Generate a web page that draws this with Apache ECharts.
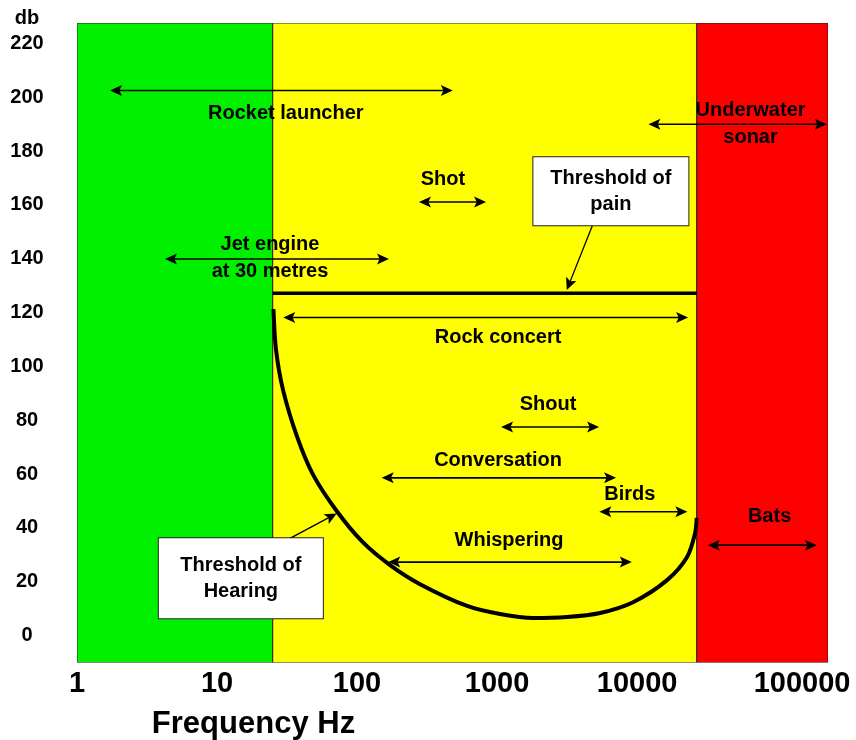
<!DOCTYPE html>
<html><head><meta charset="utf-8">
<script src="https://cdn.jsdelivr.net/npm/echarts@6/dist/echarts.min.js"></script>
<style>html,body{margin:0;padding:0;background:#fff}#c{width:856px;height:740px}</style>
</head><body><div id="c"></div>
<script>
const FONT = '"Liberation Sans", Arial, Helvetica, sans-serif';

// axis ticks
const xTickValues = [1, 10, 100, 1000, 10000, 100000];
const xTickLabels = ['1', '10', '100', '1000', '10000', '100000'];
const yTickValues = [0, 20, 40, 60, 80, 100, 120, 140, 160, 180, 200, 220];
const Y_MIN = -10, Y_MAX = 227.6;
const X_MIN = 1, X_MAX = 231000;

// frequency bands (Hz)
const bandStart = [1, 25, 26700];
const bandEnd = [25, 26700, 231000];
const bandColors = ['#00f000', '#ffff00', '#ff0000'];

// threshold of hearing (Hz, dB)
const hearingF = [25.3, 26.4, 29.6, 37.3, 48.5, 72.0, 110.4, 172, 282, 611, 1050, 1808, 3162, 5441, 9362, 16380, 22760, 25970, 26650];
const hearingDb = [121.3, 106.1, 91.3, 73.9, 59.8, 46.1, 34.6, 26.2, 19.1, 11.0, 8.0, 6.5, 6.9, 8.4, 12.4, 20.6, 29.2, 38.1, 43.7];

// threshold of pain
const painF = [25, 26700];
const painDb = [127.2, 127.2];

// sound sources: frequency range and level
const sourceNames = ['Rocket launcher', 'Underwater\nsonar', 'Shot', 'Jet engine\nat 30 metres', 'Rock concert', 'Shout', 'Conversation', 'Birds', 'Whispering', 'Bats'];
const sourceFLow = [1.72, 12050, 277, 4.25, 29.7, 1069, 150, 5380, 167, 32000];
const sourceFHigh = [483, 226500, 835, 169, 23130, 5354, 7080, 22870, 9170, 192200];
const sourceDb = [202.5, 190.0, 161.1, 139.9, 118.2, 77.5, 58.6, 46.0, 27.3, 33.6];
const labelF = [31.0, 64600, 411, 23.9, 1017, 2312, 1017, 8870, 1218, 88400];
const labelDb = [193.8, 189.9, 169.3, 140.3, 110.9, 85.7, 65.2, 52.4, 35.5, 44.2];

// annotation call-outs
const noteTexts = ['Threshold of\npain', 'Threshold of\nHearing'];
const noteF = [6500, 14.8];
const noteDb = [165.1, 21.3];
const notePointerF = [4820, 33.2];
const notePointerDb = [152.6, 36.1];
const noteTargetF = [3147, 71.6];
const noteTargetDb = [128.4, 45.4];

function tickLabel(v) {
  for (let i = 0; i < xTickValues.length; i++) {
    if (Math.abs(Math.log10(v) - Math.log10(xTickValues[i])) < 1e-6) {
      return i === xTickValues.length - 1 ? '{far|' + xTickLabels[i] + '}' : xTickLabels[i];
    }
  }
  return '';
}

// filled arrow head with its tip at "tip", pointing away from "from"
function head(tip, from, L, W) {
  let dx = tip[0] - from[0], dy = tip[1] - from[1];
  const d = Math.sqrt(dx * dx + dy * dy) || 1;
  dx /= d; dy /= d;
  const px = -dy, py = dx;
  return [
    [tip[0], tip[1]],
    [tip[0] - dx * L + px * W, tip[1] - dy * L + py * W],
    [tip[0] - dx * L * 0.78, tip[1] - dy * L * 0.78],
    [tip[0] - dx * L - px * W, tip[1] - dy * L - py * W]
  ];
}
function inset(p, q, k) {
  let dx = q[0] - p[0], dy = q[1] - p[1];
  const d = Math.sqrt(dx * dx + dy * dy) || 1;
  return [p[0] + dx / d * k, p[1] + dy / d * k];
}

const chart = echarts.init(document.getElementById('c'), null, {renderer: 'canvas'});
const txt = {fontFamily: FONT, fontWeight: 'bold', color: '#000'};

const option = {
  animation: false,
  backgroundColor: '#fff',
  grid: {left: 77, top: 23, right: 28, bottom: 77.5, containLabel: false, outerBoundsMode: 'none'},
  xAxis: {
    type: 'log', logBase: 10, min: X_MIN, max: X_MAX,
    axisLine: {show: false}, axisTick: {show: false}, splitLine: {show: false}, minorSplitLine: {show: false},
    axisLabel: {
      showMaxLabel: false, margin: 7, fontSize: 29, ...txt,
      formatter: tickLabel,
      rich: {far: {fontSize: 29, fontFamily: FONT, fontWeight: 'bold', color: '#000', padding: [0, 0, 0, 50]}}
    },
    name: 'Frequency Hz', nameLocation: 'middle', nameGap: 46,
    nameTextStyle: {fontSize: 31, ...txt, align: 'center', padding: [0, 398, 0, 0]}
  },
  yAxis: {
    type: 'value', min: Y_MIN, max: Y_MAX,
    axisLine: {show: false}, axisTick: {show: false}, splitLine: {show: false},
    axisLabel: {customValues: yTickValues, align: 'center', margin: 50, fontSize: 20, padding: [2, 0, 0, 0], ...txt},
    name: 'db', nameLocation: 'end', nameGap: 5,
    nameTextStyle: {fontSize: 20, ...txt, align: 'center', verticalAlign: 'middle', padding: [0, 100, 0, 0]}
  },
  series: [
    {
      type: 'custom', z: 1, silent: true, clip: true,
      data: bandStart.map((s, i) => [s, bandEnd[i], i]),
      encode: {x: [0, 1]},
      renderItem: function (params, api) {
        const p1 = api.coord([api.value(0), Y_MAX]);
        const p2 = api.coord([api.value(1), Y_MIN]);
        return {
          type: 'rect',
          shape: {x: p1[0], y: p1[1], width: p2[0] - p1[0], height: p2[1] - p1[1]},
          style: {fill: bandColors[api.value(2)], stroke: '#222', lineWidth: 1}
        };
      }
    },
    {
      type: 'line', z: 3, silent: true, smooth: 0.3, showSymbol: false, symbol: 'none',
      data: hearingF.map((f, i) => [f, hearingDb[i]]),
      lineStyle: {color: '#000', width: 4}
    },
    {
      type: 'line', z: 3, silent: true, showSymbol: false, symbol: 'none',
      data: painF.map((f, i) => [f, painDb[i]]),
      lineStyle: {color: '#000', width: 3.5}
    },
    {
      type: 'custom', z: 4, silent: true, clip: false,
      data: sourceNames.map((n, i) => [sourceFLow[i], sourceFHigh[i], sourceDb[i]]),
      encode: {x: [0, 1], y: 2},
      renderItem: function (params, api) {
        const a = api.coord([api.value(0), api.value(2)]);
        const b = api.coord([api.value(1), api.value(2)]);
        const a2 = inset(a, b, 9), b2 = inset(b, a, 9);
        return {type: 'group', children: [
          {type: 'line', shape: {x1: a2[0], y1: a2[1], x2: b2[0], y2: b2[1]}, style: {stroke: '#000', lineWidth: 1.6}},
          {type: 'polygon', shape: {points: head(a, b, 12, 5.5)}, style: {fill: '#000'}},
          {type: 'polygon', shape: {points: head(b, a, 12, 5.5)}, style: {fill: '#000'}}
        ]};
      }
    },
    {
      type: 'scatter', z: 5, silent: true, symbolSize: 1, itemStyle: {color: 'rgba(0,0,0,0)', opacity: 1},
      data: sourceNames.map((n, i) => ({name: n, value: [labelF[i], labelDb[i]]})),
      label: {show: true, position: 'inside', opacity: 1, formatter: p => sourceNames[p.dataIndex], fontSize: 20, lineHeight: 27, ...txt}
    },
    {
      type: 'custom', z: 6, silent: true, clip: false,
      data: noteTexts.map((t, i) => [notePointerF[i], notePointerDb[i], noteTargetF[i], noteTargetDb[i]]),
      encode: {x: [0, 2], y: [1, 3]},
      renderItem: function (params, api) {
        const a = api.coord([api.value(0), api.value(1)]);
        const b = api.coord([api.value(2), api.value(3)]);
        const b2 = inset(b, a, 9);
        return {type: 'group', children: [
          {type: 'line', shape: {x1: a[0], y1: a[1], x2: b2[0], y2: b2[1]}, style: {stroke: '#000', lineWidth: 1.3}},
          {type: 'polygon', shape: {points: head(b, a, 12, 5.5)}, style: {fill: '#000'}}
        ]};
      }
    },
    {
      type: 'scatter', z: 7, silent: true, symbolSize: 1, itemStyle: {color: 'rgba(0,0,0,0)', opacity: 1},
      data: noteTexts.map((t, i) => ({name: t, value: [noteF[i], noteDb[i]],
        label: i === 0 ? {width: 155, padding: [8, 0, 8, 0]} : {width: 164, padding: [19, 0, 9, 0]}})),
      label: {show: true, position: 'inside', opacity: 1, formatter: p => noteTexts[p.dataIndex], fontSize: 20, lineHeight: 26, ...txt,
        align: 'center', backgroundColor: '#fff', borderColor: '#222', borderWidth: 1}
    }
  ]
};
chart.setOption(option);
</script>
</body></html>
